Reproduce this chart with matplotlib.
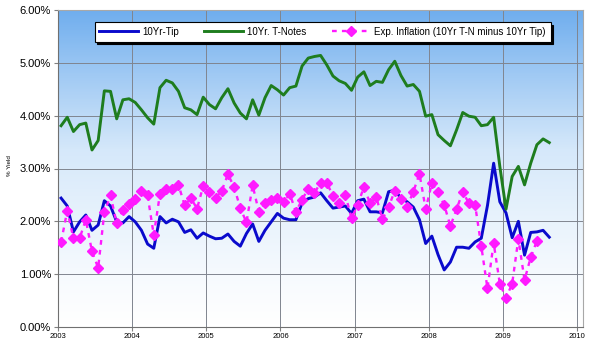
import numpy as np
import matplotlib
matplotlib.use("Agg")
import matplotlib.pyplot as plt
from matplotlib.colors import LinearSegmentedColormap

plt.rcParams['font.family'] = ['Liberation Sans', 'DejaVu Sans']

# monthly data, Jan 2003 .. Aug 2009
start_year = 2003
tip = [2.44, 2.29, 1.80, 1.99, 2.12, 1.83, 1.93, 2.39, 2.29, 1.99,
       1.97, 2.09, 1.99, 1.83, 1.57, 1.49, 2.09, 1.97, 2.04, 1.99,
       1.79, 1.84, 1.68, 1.78, 1.72, 1.67, 1.68, 1.76, 1.62, 1.53,
       1.77, 1.95, 1.62, 1.83, 1.99, 2.15, 2.06, 2.03, 2.03, 2.35,
       2.43, 2.46, 2.54, 2.39, 2.25, 2.27, 2.29, 2.15, 2.39, 2.42,
       2.18, 2.18, 2.16, 2.56, 2.59, 2.44, 2.37, 2.27, 2.03, 1.58,
       1.72, 1.37, 1.08, 1.23, 1.51, 1.51, 1.49, 1.61, 1.68, 2.30,
       3.10, 2.37, 2.16, 1.69, 2.00, 1.36, 1.79, 1.80, 1.83, 1.70]
tnotes = [3.81, 3.97, 3.70, 3.83, 3.86, 3.35, 3.53, 4.47, 4.46, 3.94,
          4.30, 4.32, 4.25, 4.11, 3.96, 3.84, 4.53, 4.67, 4.62, 4.46,
          4.15, 4.11, 4.02, 4.35, 4.21, 4.13, 4.34, 4.51, 4.24, 4.05,
          3.94, 4.30, 4.01, 4.34, 4.57, 4.49, 4.39, 4.53, 4.56, 4.94,
          5.09, 5.12, 5.14, 4.96, 4.75, 4.66, 4.61, 4.48, 4.73, 4.83,
          4.57, 4.65, 4.63, 4.87, 5.03, 4.76, 4.56, 4.59, 4.46, 3.99,
          4.02, 3.64, 3.53, 3.43, 3.73, 4.06, 3.99, 3.97, 3.81, 3.83,
          3.97, 3.04, 2.23, 2.85, 3.04, 2.69, 3.10, 3.45, 3.56, 3.49]
infl = [1.61, 2.20, 1.68, 1.68, 2.03, 1.43, 1.12, 2.17, 2.49, 1.96,
        2.21, 2.32, 2.42, 2.58, 2.49, 1.74, 2.52, 2.62, 2.62, 2.69,
        2.30, 2.44, 2.24, 2.67, 2.56, 2.44, 2.58, 2.89, 2.65, 2.25,
        1.98, 2.68, 2.18, 2.34, 2.40, 2.44, 2.37, 2.52, 2.18, 2.41,
        2.62, 2.54, 2.73, 2.73, 2.48, 2.34, 2.50, 2.06, 2.31, 2.65,
        2.34, 2.46, 2.04, 2.27, 2.58, 2.42, 2.28, 2.56, 2.90, 2.23,
        2.72, 2.55, 2.31, 1.91, 2.23, 2.56, 2.34, 2.31, 1.53, 0.73,
        1.59, 0.82, 0.55, 0.82, 1.67, 0.89, 1.32, 1.63]

def to_x(vals):
    return start_year + (np.arange(len(vals)) + 0.5) / 12.0

fig = plt.figure(figsize=(5.91, 3.44), dpi=100)
ax = fig.add_axes([58/591, 1 - 327/344, 525/591, 317/344])

x0, x1 = 2003, 2010.08
# gradient background: white at bottom, blue at top
grad = np.linspace(0, 1, 256).reshape(-1, 1) ** 1.2
cmap = LinearSegmentedColormap.from_list('bg', ['#ffffff', '#d5e8fa', '#70aeee'])
ax.imshow(grad, extent=[x0, x1, 0, 6], origin='lower', aspect='auto',
          cmap=cmap, zorder=0)

ax.plot(to_x(tip), tip, color='#0a0acc', lw=2.1, label='10Yr-Tip', zorder=3)
ax.plot(to_x(tnotes), tnotes, color='#1e7d1e', lw=2.1, label='10Yr. T-Notes', zorder=3)
ax.plot(to_x(infl), infl, color='#ff1aff', lw=1.7, ls=(0, (2, 2.2)), marker='D',
        ms=5.3, mec='#ff1aff', label='Exp. Inflation (10Yr T-N minus 10Yr Tip)', zorder=4)

ax.set_xlim(x0, x1)
ax.set_ylim(0, 6)
ax.set_xticks(range(2003, 2011))
ax.set_yticks(range(0, 7))
ax.set_yticklabels(['%.2f%%' % v for v in range(0, 7)], fontsize=8)
ax.tick_params(axis='x', labelsize=5.5, length=3, color='#808080', pad=1)
ax.tick_params(axis='y', length=3, color='#808080', pad=2)
ax.set_axisbelow(True)
ax.grid(True, color='#80858f', lw=0.7)
for s in ax.spines.values():
    s.set_color('#a8a8a8')
ax.spines['left'].set_color('#707070')
ax.spines['bottom'].set_color('#707070')

fig.text(0.012, 0.52, '% Yield', rotation=90, fontsize=4.5, va='center', ha='left')

leg = ax.legend(loc='upper center', bbox_to_anchor=(0.504, 0.978), ncol=3,
                fontsize=7, frameon=True, fancybox=False, shadow={'color': 'black', 'alpha': 1},
                edgecolor='black', framealpha=1, borderpad=0.5, handlelength=4.0,
                columnspacing=2.6, handletextpad=0.4)
leg.get_frame().set_linewidth(0.8)

fig.savefig('out.png', dpi=100)
